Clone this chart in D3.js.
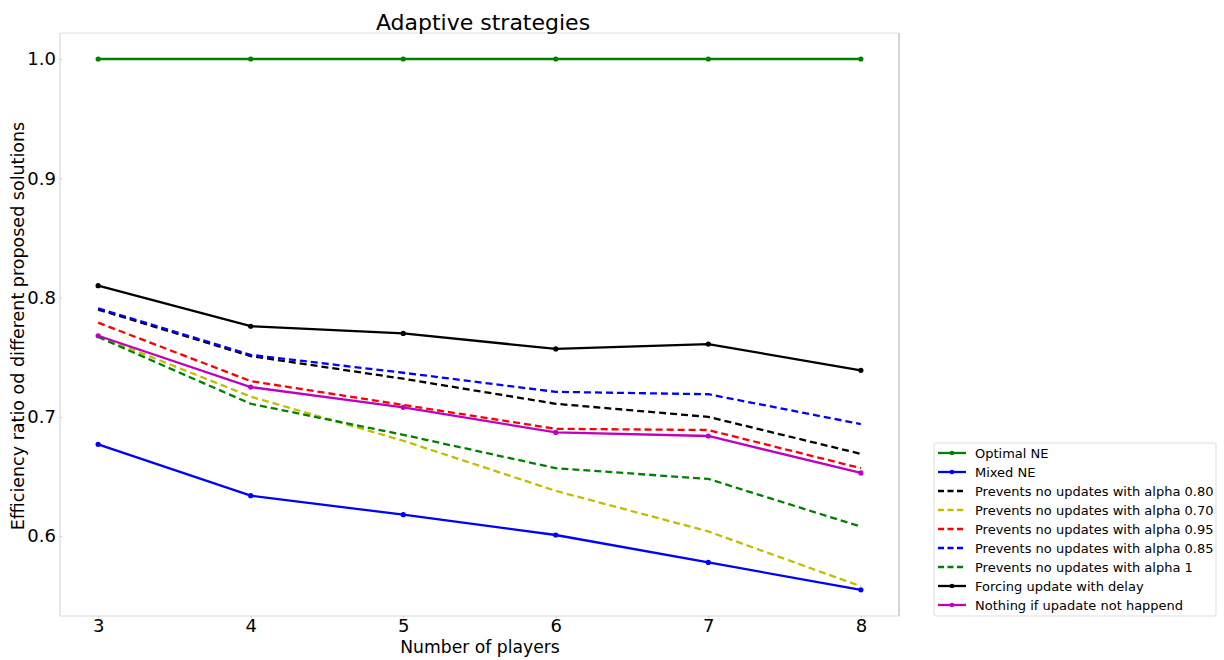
<!DOCTYPE html>
<html>
<head>
<meta charset="utf-8">
<script src="https://cdn.jsdelivr.net/npm/d3@7"></script>
<style>
  html, body { margin: 0; padding: 0; background: #fff; }
  svg { display: block; font-family: "DejaVu Sans", sans-serif; }
</style>
</head>
<body>
<svg id="chart" width="1224" height="660"></svg>
<script>
// Number of players on the x axis
const players = [3, 4, 5, 6, 7, 8];
const xTicks = [3, 4, 5, 6, 7, 8];
const yTicks = [0.6, 0.7, 0.8, 0.9, 1.0];

// Efficiency ratio per strategy
const optimalNE   = [1.0, 1.0, 1.0, 1.0, 1.0, 1.0];
const mixedNE     = [0.677, 0.634, 0.618, 0.601, 0.578, 0.555];
const alpha080    = [0.790, 0.751, 0.732, 0.711, 0.700, 0.669];
const alpha070    = [0.768, 0.717, 0.680, 0.638, 0.604, 0.558];
const alpha095    = [0.779, 0.730, 0.710, 0.690, 0.689, 0.657];
const alpha085    = [0.791, 0.752, 0.737, 0.721, 0.719, 0.694];
const alpha1      = [0.767, 0.711, 0.685, 0.657, 0.648, 0.608];
const forcingDelay = [0.810, 0.776, 0.770, 0.757, 0.761, 0.739];
const nothingIfNot = [0.768, 0.725, 0.708, 0.687, 0.684, 0.653];

const seriesNames = [
  "Optimal NE",
  "Mixed NE",
  "Prevents no updates with alpha 0.80",
  "Prevents no updates with alpha 0.70",
  "Prevents no updates with alpha 0.95",
  "Prevents no updates with alpha 0.85",
  "Prevents no updates with alpha 1",
  "Forcing update with delay",
  "Nothing if upadate not happend"
];
const seriesValues = [optimalNE, mixedNE, alpha080, alpha070, alpha095, alpha085, alpha1, forcingDelay, nothingIfNot];
const seriesColors = ["#008000", "#0000ff", "#000000", "#bfbf00", "#ff0000", "#0000ff", "#008000", "#000000", "#bf00bf"];
const seriesDashed = [false, false, true, true, true, true, true, false, false];
const seriesMarkers = [true, true, false, false, false, false, false, true, true];

const svg = d3.select("#chart");
const plot = { left: 60, right: 899, top: 33, bottom: 616 };

const x = d3.scaleLinear().domain([2.75, 8.25]).range([plot.left, plot.right]);
const y = d3.scaleLinear().domain([0.5331, 1.0218]).range([plot.bottom, plot.top]);

// Axes
const xAxis = d3.axisBottom(x).tickValues(xTicks).tickFormat(d3.format("d")).tickSize(2).tickPadding(1);
const yAxis = d3.axisLeft(y).tickValues(yTicks).tickFormat(d3.format(".1f")).tickSize(-2).tickPadding(6);

const gx = svg.append("g").attr("transform", `translate(0,${plot.bottom})`).call(xAxis);
const gy = svg.append("g").attr("transform", `translate(${plot.left},0)`).call(yAxis);
[gx, gy].forEach(g => {
  g.select(".domain").remove();
  g.selectAll(".tick line").attr("stroke", "#cccccc");
  g.selectAll(".tick text").attr("font-size", 18).attr("fill", "#000")
    .attr("font-family", "DejaVu Sans, sans-serif");
});
gx.selectAll(".tick text").attr("dy", null).attr("y", 16);
gy.selectAll(".tick text").attr("x", -4);

// Frame
svg.append("line").attr("x1", plot.left).attr("x2", plot.right).attr("y1", plot.top).attr("y2", plot.top).attr("stroke", "#e0e0e0");
svg.append("line").attr("x1", plot.left).attr("x2", plot.right).attr("y1", plot.bottom).attr("y2", plot.bottom).attr("stroke", "#d8d8d8");
svg.append("line").attr("x1", plot.left).attr("x2", plot.left).attr("y1", plot.top).attr("y2", plot.bottom).attr("stroke", "#d0d0d0");
svg.append("line").attr("x1", plot.right).attr("x2", plot.right).attr("y1", plot.top).attr("y2", plot.bottom).attr("stroke", "#aaaaaa");

// Lines
const line = d3.line().x((d, i) => x(players[i])).y(d => y(d));
seriesValues.forEach((vals, k) => {
  svg.append("path")
    .datum(vals)
    .attr("d", line)
    .attr("fill", "none")
    .attr("stroke", seriesColors[k])
    .attr("stroke-width", 2.3)
    .attr("stroke-dasharray", seriesDashed[k] ? "7,4" : null);
  if (seriesMarkers[k]) {
    svg.selectAll(null).data(vals).enter().append("circle")
      .attr("cx", (d, i) => x(players[i]))
      .attr("cy", d => y(d))
      .attr("r", 2.6)
      .attr("fill", seriesColors[k]);
  }
});

// Title and axis labels
svg.append("text").attr("x", 483).attr("y", 30).attr("text-anchor", "middle")
  .attr("font-size", 22).text("Adaptive strategies");
svg.append("text").attr("x", 480).attr("y", 653).attr("text-anchor", "middle")
  .attr("font-size", 17.2).text("Number of players");
svg.append("text").attr("transform", "translate(24,326) rotate(-90)").attr("text-anchor", "middle")
  .attr("font-size", 17.5).text("Efficiency ratio od different proposed solutions");

// Legend
const lg = svg.append("g").attr("transform", "translate(934,443)");
lg.append("rect").attr("x", 0).attr("y", 0).attr("width", 282).attr("height", 173)
  .attr("fill", "#fff").attr("stroke", "#dddddd").attr("rx", 2);
seriesNames.forEach((name, k) => {
  const yy = 10 + k * 19;
  lg.append("line").attr("x1", 4).attr("x2", 32).attr("y1", yy).attr("y2", yy)
    .attr("stroke", seriesColors[k]).attr("stroke-width", 2.3)
    .attr("stroke-dasharray", seriesDashed[k] ? "6,3.5" : null);
  if (seriesMarkers[k]) {
    lg.append("circle").attr("cx", 18).attr("cy", yy).attr("r", 2.3).attr("fill", seriesColors[k]);
  }
  lg.append("text").attr("x", 41).attr("y", yy + 4.5).attr("font-size", 13).text(name);
});
</script>
</body>
</html>
